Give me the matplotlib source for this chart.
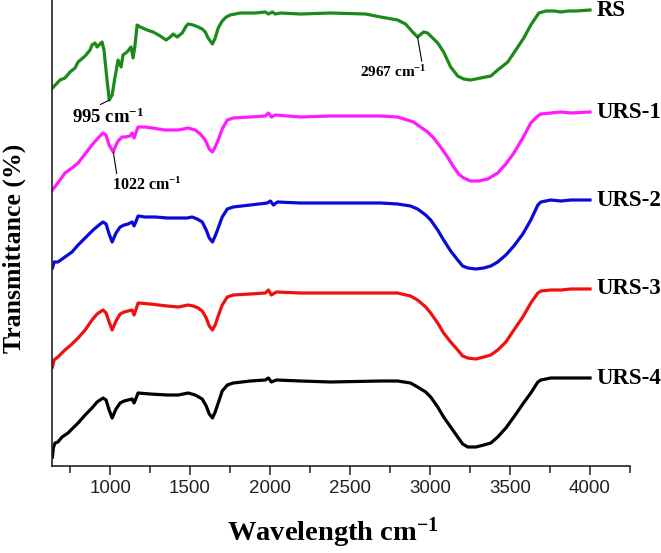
import matplotlib
matplotlib.use("Agg")
import matplotlib.pyplot as plt
from matplotlib.ticker import MultipleLocator

plt.rcParams["mathtext.fontset"] = "custom"
plt.rcParams["mathtext.rm"] = "Liberation Serif:bold"
plt.rcParams["mathtext.it"] = "Liberation Serif:bold"
plt.rcParams["mathtext.bf"] = "Liberation Serif:bold"
plt.rcParams["mathtext.default"] = "rm"

# ---- data (wavenumber cm-1, offset transmittance, arbitrary units) ----
rs_x = [640, 687, 718, 750, 781, 800, 844, 875, 887, 906, 919, 950, 962, 981, 995, 1013, 1031, 1050,
        1069, 1081, 1106, 1131, 1144, 1156, 1169, 1188, 1232, 1269, 1313, 1350, 1376, 1394, 1420, 1451,
        1476, 1488, 1520, 1551, 1576, 1595, 1613, 1640, 1657, 1676, 1701, 1726, 1751, 1814, 1908, 1970,
        1990, 2015, 2033, 2065, 2190, 2378, 2597, 2691, 2797, 2847, 2891, 2922, 2960, 2985, 3048, 3085,
        3129, 3173, 3210, 3254, 3317, 3380, 3423, 3486, 3536, 3586, 3630, 3680, 3724, 3774, 3818, 3862,
        3912, 4000]
rs_y = [378, 386, 388, 394, 398, 404, 410, 416, 421, 423, 419, 424, 416, 386, 366, 371, 389, 406,
        399, 411, 414, 419, 408, 421, 441, 439, 436, 434, 430, 426, 429, 432, 429, 433,
        440, 442, 441, 439, 437, 434, 428, 422, 428, 438, 445, 449, 451, 453, 453, 454,
        452, 454, 452, 453, 452, 453, 452, 449, 446, 442, 434, 429, 434, 433, 423, 414,
        399, 390, 387, 386, 388, 390, 396, 404, 416, 428, 441, 453, 455, 455, 454, 455,
        455, 456]

urs1_x = [640, 687, 718, 762, 800, 844, 887, 919, 956, 975, 994, 1020, 1037, 1050, 1075, 1094, 1125,
          1138, 1150, 1163, 1175, 1219, 1263, 1344, 1426, 1488, 1532, 1564, 1595, 1620, 1640, 1657,
          1676, 1701, 1733, 1770, 1877, 1970, 1990, 2008, 2033, 2190, 2378, 2691, 2797, 2897, 2941,
          2985, 3023, 3066, 3110, 3148, 3179, 3210, 3254, 3304, 3361, 3423, 3474, 3524, 3580, 3630,
          3674, 3693, 3755, 3818, 3881, 4000]
urs1_y = [276, 286, 293, 298, 303, 312, 321, 327, 333, 331, 321, 314, 321, 325, 329, 329, 330,
          333, 328, 334, 339, 339, 338, 336, 336, 338, 336, 332, 326, 317, 314, 319,
          326, 337, 346, 348, 349, 350, 353, 349, 351, 349, 350, 350, 349, 344, 339,
          334, 328, 319, 309, 299, 292, 288, 285, 285, 287, 293, 302, 313, 328, 343,
          350, 352, 353, 354, 353, 354]

urs2_x = [640, 650, 674, 718, 762, 800, 844, 894, 931, 956, 975, 994, 1013, 1037, 1063, 1088, 1113,
          1138, 1150, 1163, 1175, 1219, 1282, 1357, 1426, 1482, 1513, 1545, 1576, 1601, 1620, 1640,
          1657, 1676, 1701, 1733, 1770, 1877, 1983, 2002, 2021, 2046, 2190, 2378, 2691, 2797, 2878,
          2922, 2973, 3004, 3048, 3085, 3129, 3173, 3204, 3236, 3286, 3336, 3380, 3423, 3474, 3524,
          3580, 3630, 3674, 3693, 3755, 3818, 3881, 4000]
urs2_y = [198, 204, 204, 209, 214, 221, 228, 236, 241, 244, 242, 232, 224, 233, 239, 241, 242,
          244, 240, 245, 250, 249, 249, 248, 248, 248, 249, 247, 244, 236, 228, 224,
          230, 238, 249, 257, 259, 261, 263, 265, 261, 264, 263, 263, 263, 262, 260,
          257, 251, 246, 236, 226, 215, 206, 200, 198, 197, 198, 200, 204, 211, 220,
          232, 246, 261, 264, 266, 265, 266, 266]

urs3_x = [640, 650, 674, 718, 762, 800, 844, 887, 919, 956, 975, 994, 1013, 1037, 1063, 1088, 1113,
          1138, 1150, 1163, 1175, 1250, 1357, 1426, 1488, 1520, 1551, 1576, 1601, 1620, 1640, 1657,
          1676, 1701, 1733, 1770, 1877, 1970, 1990, 2008, 2040, 2190, 2378, 2691, 2797, 2878, 2922,
          2973, 3004, 3048, 3085, 3129, 3173, 3204, 3236, 3286, 3336, 3380, 3423, 3474, 3524, 3580,
          3630, 3674, 3693, 3755, 3818, 3881, 4000]
urs3_y = [99, 106, 109, 116, 122, 128, 136, 146, 152, 156, 153, 144, 136, 145, 152, 154, 155,
          156, 151, 157, 163, 162, 160, 159, 161, 160, 158, 155, 148, 140, 136, 141,
          150, 161, 169, 171, 172, 173, 176, 171, 174, 173, 173, 173, 173, 170, 166,
          159, 153, 143, 133, 124, 116, 110, 108, 107, 109, 111, 116, 124, 136, 149,
          163, 173, 175, 176, 176, 177, 177]

urs4_x = [640, 645, 656, 674, 700, 737, 768, 800, 844, 887, 919, 956, 975, 994, 1013, 1037, 1063,
          1088, 1113, 1138, 1150, 1163, 1175, 1250, 1357, 1426, 1488, 1532, 1576, 1601, 1620, 1640,
          1657, 1676, 1701, 1733, 1770, 1877, 1970, 1990, 2008, 2040, 2190, 2378, 2691, 2797, 2878,
          2922, 2973, 3004, 3048, 3085, 3129, 3173, 3204, 3236, 3286, 3336, 3380, 3423, 3474, 3524,
          3580, 3630, 3674, 3693, 3755, 3818, 3881, 4000]
urs4_y = [9, 18, 23, 24, 29, 33, 38, 43, 51, 58, 64, 68, 66, 56, 48, 57, 63,
          65, 66, 67, 63, 68, 73, 72, 71, 71, 73, 71, 67, 60, 52, 48,
          54, 63, 75, 81, 83, 85, 86, 88, 84, 86, 85, 84, 85, 85, 83,
          79, 74, 69, 59, 49, 39, 29, 22, 19, 19, 21, 23, 29, 38, 49,
          62, 73, 84, 86, 88, 88, 88, 88]

series_names = ["RS", "URS-1", "URS-2", "URS-3", "URS-4"]
series_x = [rs_x, urs1_x, urs2_x, urs3_x, urs4_x]
series_y = [rs_y, urs1_y, urs2_y, urs3_y, urs4_y]
series_colors = ["#1b8a1b", "#ff1aff", "#0a0ad8", "#f01010", "#000000"]

# annotations: (text, peak x, peak y, text x, text y, fontsize, relpos)
annotations = [
    ("995 cm$^{-1}$", 995, 366, 987, 349, 13.5, (0.32, 1.0)),
    ("1022 cm$^{-1}$", 1020, 314, 1232, 281, 11.5, (0.07, 1.0)),
    ("2967 cm$^{-1}$", 2922, 429, 2772, 394, 11.0, (0.93, 1.0)),
]

W, H = 661, 553
fig = plt.figure(figsize=(W / 100, H / 100), dpi=100)
ax = fig.add_axes([52 / W, 1 - 466 / H, (630 - 52) / W, 466 / H])

for name, xs, ys, c in zip(series_names, series_x, series_y, series_colors):
    ax.plot(xs, ys, color=c, lw=2.3, solid_joinstyle="round")
    ax.text(4040, ys[-1], name, color="black", fontsize=16.5, fontweight="bold",
            family="Liberation Serif", ha="left", va="center", clip_on=False)

for txt, px, py, tx, ty, fs, rp in annotations:
    ax.annotate(txt, xy=(px, py), xytext=(tx, ty), ha="center", va="center",
                fontsize=fs, fontweight="bold", family="Liberation Serif",
                arrowprops=dict(arrowstyle="-", lw=0.8, color="black", relpos=rp,
                                shrinkA=0, shrinkB=0))

ax.set_xlim(637, 4250)
ax.set_ylim(0, 466)
ax.xaxis.set_major_locator(MultipleLocator(500))
ax.xaxis.set_minor_locator(MultipleLocator(250))
ax.set_yticks([])
for s in ["top", "right"]:
    ax.spines[s].set_visible(False)
for s in ["left", "bottom"]:
    ax.spines[s].set_linewidth(1.2)
    ax.spines[s].set_color("#222222")
ax.tick_params(axis="x", which="major", direction="out", length=6.5, width=1.1, pad=3.6,
               labelsize=13.5, colors="#222222")
ax.tick_params(axis="x", which="minor", direction="out", length=5, width=1.1, colors="#222222")
for lab in ax.get_xticklabels():
    lab.set_family("Liberation Sans")

fig.text(14 / W, 1 - 248 / H, "Transmittance (%)", rotation=90, ha="center", va="center",
         fontsize=18.5, fontweight="bold", family="Liberation Serif")
fig.text(333 / W, 1 - 541 / H, "Wavelength cm$^{-1}$", ha="center", va="baseline",
         fontsize=20.5, fontweight="bold", family="Liberation Serif")

fig.savefig("out.png", dpi=100)
